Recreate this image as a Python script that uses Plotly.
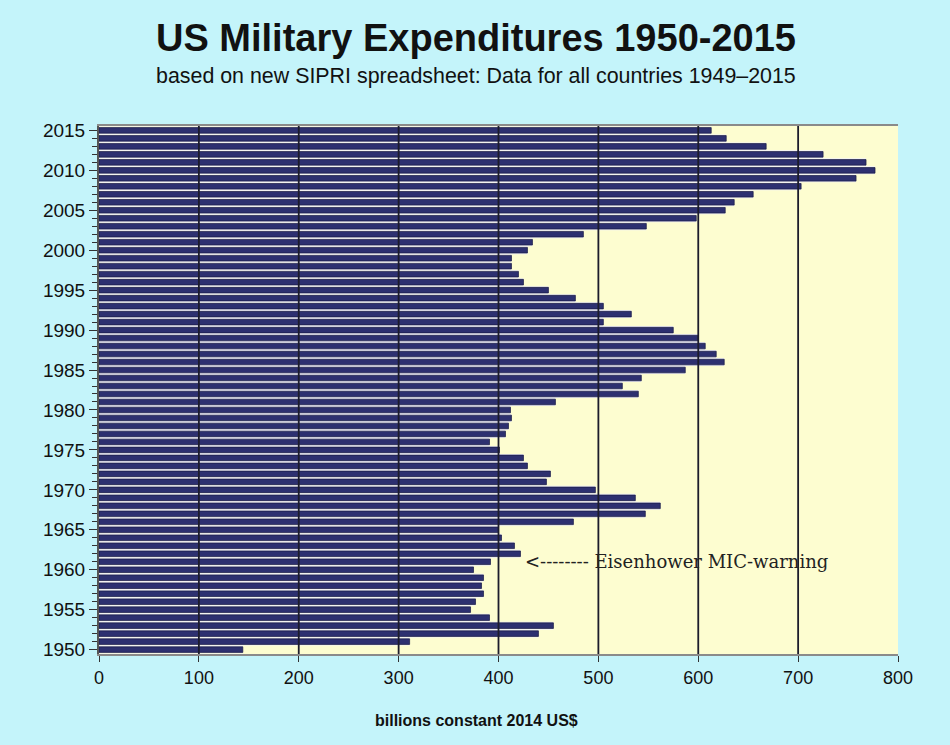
import plotly.graph_objects as go

years = list(range(1950, 2016))
spending = [
    144, 311, 440, 455, 391, 372, 377, 385, 383, 385,   # 1950-1959
    375, 392, 422, 416, 403, 400, 475, 547, 562, 537,   # 1960-1969
    497, 448, 452, 429, 425, 401, 391, 407, 410, 413,   # 1970-1979
    412, 457, 540, 524, 543, 587, 626, 618, 607, 600,   # 1980-1989
    575, 505, 533, 505, 477, 450, 425, 420, 413, 413,   # 1990-1999
    429, 434, 485, 548, 598, 627, 636, 655, 703, 758,   # 2000-2009
    777, 768, 725, 668, 628, 613,                       # 2010-2015
]
x_ticks = [0, 100, 200, 300, 400, 500, 600, 700, 800]
y_ticks = list(range(1950, 2016, 5))

title_text = "US Military Expenditures 1950-2015"
subtitle_text = "based on new SIPRI spreadsheet: Data for all countries 1949\u20132015"
x_title = "billions constant 2014 US$"
note_text = "<-------- Eisenhower MIC-warning"
note_year = 1961
note_x = 425

fig = go.Figure()
# light halo band (gives the shaded look of each bar)
fig.add_trace(go.Bar(
    y=years, x=spending, orientation="h", width=1.0,
    marker=dict(color="#f0f0f8", line=dict(width=0)),
    hoverinfo="skip", showlegend=False,
))
# dark core of the bar
fig.add_trace(go.Bar(
    y=years, x=spending, orientation="h", width=0.7,
    marker=dict(color="#2d3070", line=dict(color="#181a40", width=0.7)),
    showlegend=False,
))

# vertical grid lines drawn above the bars, as in the original
grid_shapes = [
    dict(type="line", xref="x", yref="paper", x0=v, x1=v, y0=0, y1=1,
         line=dict(color="#1c1c2c", width=1.8), layer="above")
    for v in x_ticks[1:-1]
]

fig.update_layout(
    width=950, height=745,
    margin=dict(l=99, r=52, t=126, b=91),
    paper_bgcolor="#c4f4fa",
    plot_bgcolor="#fdfdd0",
    barmode="overlay",
    font=dict(family="Liberation Sans, Arial, sans-serif", color="#111"),
    shapes=grid_shapes,
    annotations=[
        dict(text="<b>" + title_text + "</b>", xref="paper", yref="paper",
             x=0.472, y=1.167, xanchor="center", yanchor="middle",
             showarrow=False, font=dict(size=38, color="#111")),
        dict(text=subtitle_text, xref="paper", yref="paper",
             x=0.472, y=1.095, xanchor="center", yanchor="middle",
             showarrow=False, font=dict(size=21.4, color="#111")),
        dict(text="<b>" + x_title + "</b>", xref="paper", yref="paper",
             x=0.4725, y=-0.125, xanchor="center", yanchor="middle",
             showarrow=False, font=dict(size=16, color="#111")),
        dict(text=note_text, xref="x", yref="y", x=note_x, y=note_year,
             xanchor="left", yanchor="middle", showarrow=False,
             font=dict(family="DejaVu Serif, serif", size=18, color="#222")),
    ],
)

fig.update_xaxes(
    range=[0, 800], tickvals=x_ticks, ticktext=[str(v) for v in x_ticks],
    showgrid=False,
    ticks="outside", ticklen=6, tickcolor="#333",
    showline=True, linecolor="#8a8a8a", linewidth=2, mirror=True,
    tickfont=dict(size=18, color="#111"), zeroline=False,
)
fig.update_yaxes(
    range=[1949.45, 2015.55], tickvals=y_ticks, ticktext=[str(v) for v in y_ticks],
    showgrid=False, zeroline=False,
    ticks="outside", ticklen=8, tickcolor="#333",
    minor=dict(dtick=1, ticks="outside", ticklen=5, tickcolor="#333", showgrid=False),
    showline=True, linecolor="#555", linewidth=2,
    tickfont=dict(size=19, color="#111"),
)

fig.write_html("out.html")
